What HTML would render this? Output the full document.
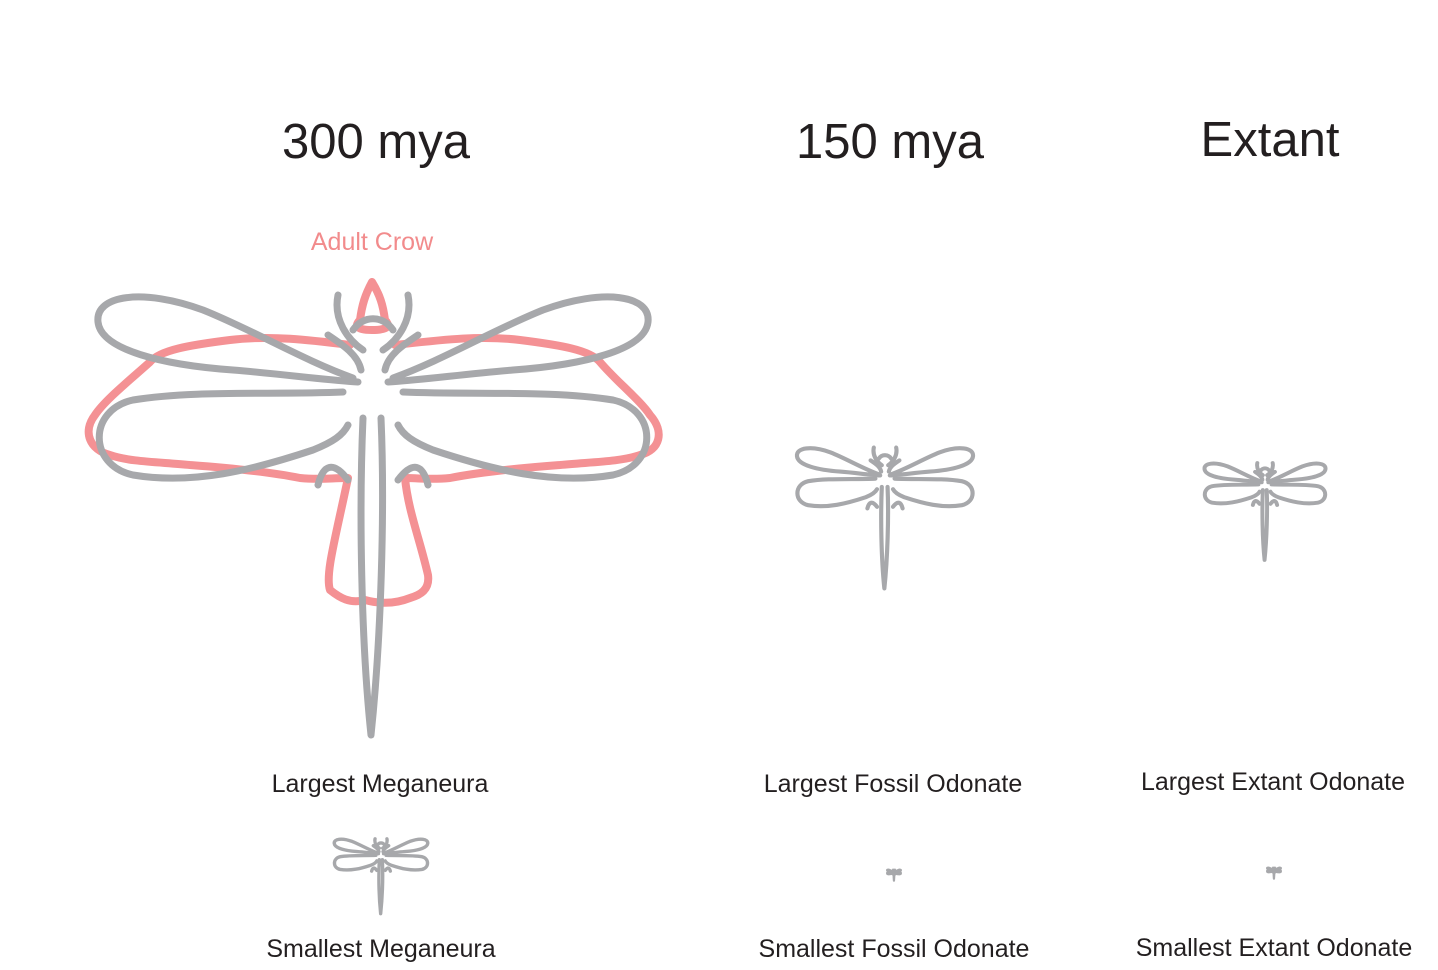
<!DOCTYPE html>
<html>
<head>
<meta charset="utf-8">
<style>
  html,body{margin:0;padding:0;background:#fff;}
  svg{display:block;}
  text{font-family:"Liberation Sans",sans-serif;fill:#231f20;}
</style>
</head>
<body>
<svg width="1438" height="970" viewBox="0 0 1438 970">
  <defs>
    <g id="dragonfly" fill="none" stroke-linecap="round" stroke-linejoin="round">
      <path d="M-20,-12 C-70,-30 -120,-60 -170,-80 C-230,-102 -278,-95 -275,-68 C-272,-40 -210,-25 -140,-20 C-90,-16 -50,-10 -15,-8"/>
      <path d="M20,-12 C70,-30 120,-60 170,-80 C230,-102 278,-95 275,-68 C272,-40 210,-25 140,-20 C90,-16 50,-10 15,-8"/>
      <path d="M-30,2 C-100,5 -180,0 -240,10 C-285,20 -285,75 -240,85 C-180,95 -120,80 -60,60 C-40,52 -30,45 -25,35"/>
      <path d="M30,2 C100,5 180,0 240,10 C285,20 285,75 240,85 C180,95 120,80 60,60 C40,52 30,45 25,35"/>
      <path d="M-35,-95 C-40,-70 -25,-50 -10,-40 M35,-95 C40,-70 25,-50 10,-40 M-20,-60 C-10,-75 10,-75 20,-60 M-45,-55 C-30,-45 -15,-35 -12,-20 M45,-55 C30,-45 15,-35 12,-20"/>
      <path d="M-10,28 C-14,120 -12,250 -2,345 C8,250 12,120 8,28"/>
      <path d="M-25,90 C-40,70 -50,75 -55,95 M25,90 C40,70 50,75 55,95"/>
    </g>
  </defs>

  <text x="376" y="158" font-size="49" text-anchor="middle">300 mya</text>
  <text x="890" y="158" font-size="49" text-anchor="middle">150 mya</text>
  <text x="1270" y="156" font-size="49" text-anchor="middle">Extant</text>

  <text x="372" y="250" font-size="25" text-anchor="middle" style="fill:#f28b8c">Adult Crow</text>

  <path fill="none" stroke="#f49194" stroke-width="8" stroke-linejoin="round" stroke-linecap="round"
    d="M372,282 C365,295 362,305 360,320 C355,325 355,330 372,330 C390,330 390,325 385,320 C383,305 380,295 372,282
       M395,345 C440,340 480,335 520,340 C560,345 590,350 600,362 C615,380 640,400 650,415 C665,432 660,450 640,455 C620,462 590,462 560,465 C520,468 480,472 450,478
       C430,480 420,478 405,478 C408,510 420,540 428,575 C430,590 420,595 410,598 C395,604 380,604 365,600 C350,604 340,598 330,590 C325,575 335,540 348,478
       C330,478 320,480 300,478 C270,472 230,468 190,465 C160,462 130,462 110,455 C90,450 82,432 95,415 C105,400 130,380 150,362 C160,350 190,345 230,340 C270,335 310,340 350,345"/>

  <g transform="translate(373,390)" stroke="#a7a8ab" stroke-width="7">
    <use href="#dragonfly"/>
  </g>
  <text x="380" y="792" font-size="25" text-anchor="middle">Largest Meganeura</text>

  <g transform="translate(381,855) scale(0.17)" stroke="#a7a8ab" stroke-width="20">
    <use href="#dragonfly"/>
  </g>
  <text x="381" y="957" font-size="25" text-anchor="middle">Smallest Meganeura</text>

  <g transform="translate(885,478) scale(0.32)" stroke="#a7a8ab" stroke-width="13">
    <use href="#dragonfly"/>
  </g>
  <text x="893" y="792" font-size="25" text-anchor="middle">Largest Fossil Odonate</text>

  <g transform="translate(894,872) scale(0.025)" stroke="#a7a8ab" stroke-width="90">
    <use href="#dragonfly"/>
  </g>
  <text x="894" y="957" font-size="25" text-anchor="middle">Smallest Fossil Odonate</text>

  <g transform="translate(1265,484) scale(0.22)" stroke="#a7a8ab" stroke-width="18">
    <use href="#dragonfly"/>
  </g>
  <text x="1273" y="790" font-size="25" text-anchor="middle">Largest Extant Odonate</text>

  <g transform="translate(1274,870) scale(0.025)" stroke="#a7a8ab" stroke-width="90">
    <use href="#dragonfly"/>
  </g>
  <text x="1274" y="956" font-size="25" text-anchor="middle">Smallest Extant Odonate</text>
</svg>
</body>
</html>
